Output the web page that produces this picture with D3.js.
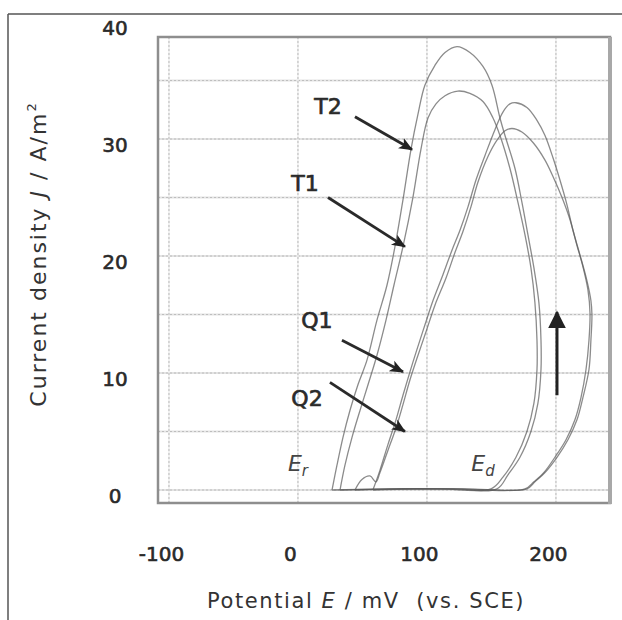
<!DOCTYPE html>
<html><head><meta charset="utf-8">
<script src="https://cdn.jsdelivr.net/npm/d3@7"></script>
<style>body{margin:0;background:#fff} svg{display:block}</style>
</head><body>
<svg id="c" width="622" height="620"></svg>
<script>
// ---- data (E in mV vs SCE, J in A/m^2) ----
const xTicks = [-100, 0, 100, 200];
const yTicks = [0, 10, 20, 30, 40];
const yGrid = [0, 5, 10, 15, 20, 25, 30, 35];

const curveT2 = [[26.4,0],[30.2,2.1],[34.9,4.5],[40.3,6.8],[46.5,9.0],[53.5,11.1],[61.2,14.5],[69.0,17.5],[75.2,20.8],[81.4,24.8],[87.6,29.1],[93.0,32.1],[98.4,34.6],[106.2,36.3],[114.0,37.4],[123.3,37.9],
  [133.3,37.4],[143.4,36.2],[150.4,34.6],[156.6,31.8],[160.5,30.3],[168.2,27.5],[173.6,24.6],[178.3,21.8],[182.9,19.0],[186.8,16.0],[188.4,12.8],[188.4,10.3],[186.0,7.4],[180.6,5.0],[172.1,2.8],[162.8,1.3],[154.3,0.1],
  [120,0.1],[80,0.1],[26.4,0]];
const curveT1 = [[32.6,0],[36.4,2.1],[41.9,4.5],[48.1,6.8],[54.3,9.0],[61.2,11.5],[68.2,14.5],[74.4,17.5],[81.4,20.8],[89.1,25.0],[95.3,29.1],[100.8,31.8],[107.0,33.0],[114.0,33.7],[124.0,34.1],
  [133.3,33.9],[143.4,33.2],[151.2,31.8],[156.6,30.3],[164.3,27.5],[170.5,24.6],[176.0,21.8],[180.6,19.0],[183.7,16.0],[185.3,12.8],[185.3,10.3],[182.9,7.4],[177.5,5.0],[169.0,2.8],[158.9,1.1],[149.6,0.1],
  [110,0.1],[70,0.1],[32.6,0]];
const curveQ1 = [[58.1,0],[63.6,1.7],[69.8,3.9],[76.0,6.0],[81.4,8.1],[86.8,10.1],[92.2,12.0],[98.4,14.1],[104.7,16.2],[112.4,18.4],[119.4,20.5],[125.6,22.2],[131.8,24.2],[138.0,26.5],[145.0,28.6],[152.7,30.8],[158.9,32.3],[164.3,33.0],[169.0,33.1],
  [177.5,32.7],[185.3,31.6],[191.5,30.3],[197.7,28.4],[203.1,26.5],[208.5,24.4],[213.2,22.2],[218.6,20.1],[224.0,17.9],[227.1,16.2],[227.9,15.0],[227.1,12.8],[225.6,10.3],[220.9,7.9],[216.3,6.0],[209.3,4.3],[200.8,2.8],[191.5,1.5],[183.7,0.7],[177.5,0.1],
  [130,0.1],[90,0.1],[58.1,0]];
const curveQ2 = [[44.2,0],[49.6,0.9],[55.8,1.2],[60.5,0.7],[63.6,1.5],[69.8,3.4],[76.0,5.3],[81.4,7.3],[86.8,9.4],[93.0,11.5],[99.2,13.5],[106.2,15.8],[114.7,18.1],[121.7,20.3],[127.9,22.1],[134.1,24.2],[139.5,26.3],[147.3,28.5],[154.3,29.9],[160.5,30.7],[165.9,30.9],
  [173.6,30.6],[182.2,29.7],[191.5,28.2],[197.7,26.8],[204.7,25.0],[210.9,23.1],[216.3,20.9],[220.9,19.1],[224.8,17.1],[226.4,15.1],[225.6,12.8],[223.3,10.3],[219.4,7.9],[214.7,6.0],[207.8,4.3],[199.2,2.8],[190.7,1.5],[182.9,0.7],[176.0,0.1],
  [120,0.1],[80,0.1],[44.2,0]];

// annotation labels and arrows (data coordinates)
const labelNames = ["T2", "T1", "Q1", "Q2"];
const labelPos = [[23.3,32.8],[5.4,26.2],[14.7,14.5],[7.0,7.9]];
const arrowFrom = [[44.2,31.9],[23.3,25.0],[34.1,12.8],[24.8,9.2]];
const arrowTo = [[88.4,29.1],[82.9,20.8],[81.4,10.1],[82.9,5.0]];
const scanArrow = [[200.8,8.1],[200.8,15.2]];
const potLabels = [{main:"E", sub:"r", pos:[0,2.3]},{main:"E", sub:"d", pos:[143.4,2.3]}];

// ---- drawing ----
const svg = d3.select('#c');
const x = d3.scaleLinear().domain([-108.5, 241.9]).range([158, 610]);
const y = d3.scaleLinear().domain([-1.11, 38.72]).range([503, 37]);
const font = "'DejaVu Sans', Verdana, sans-serif";

// outer figure frame (top and left)
svg.append('line').attr('x1',8).attr('y1',14).attr('x2',622).attr('y2',14).attr('stroke','#555').attr('stroke-width',1.5);
svg.append('line').attr('x1',8).attr('y1',14).attr('x2',8).attr('y2',620).attr('stroke','#555').attr('stroke-width',1.5);

const defs = svg.append('defs');
defs.append('clipPath').attr('id','clip').append('rect')
  .attr('x',x.range()[0]).attr('y',y.range()[1]).attr('width',x.range()[1]-x.range()[0]).attr('height',y.range()[0]-y.range()[1]);
defs.append('marker').attr('id','ah').attr('viewBox','0 0 12 10').attr('refX',11).attr('refY',5)
  .attr('markerWidth',5).attr('markerHeight',5).attr('markerUnits','strokeWidth').attr('orient','auto')
  .append('path').attr('d','M0,0 L12,5 L0,10 L3,5 Z').attr('fill','#222');
defs.append('marker').attr('id','ah2').attr('viewBox','0 0 10 10').attr('refX',9).attr('refY',5)
  .attr('markerWidth',6).attr('markerHeight',6).attr('markerUnits','strokeWidth').attr('orient','auto')
  .append('path').attr('d','M0,0 L10,5 L0,10 Z').attr('fill','#222');

// grid
const grid = svg.append('g');
yGrid.forEach(v => {
  grid.append('line').attr('x1',x.range()[0]).attr('x2',x.range()[1]).attr('y1',y(v)).attr('y2',y(v))
    .attr('stroke','#e3e3e3').attr('stroke-width',2.2);
  grid.append('line').attr('x1',x.range()[0]).attr('x2',x.range()[1]).attr('y1',y(v)).attr('y2',y(v))
    .attr('stroke','#bdbdbd').attr('stroke-width',1).attr('stroke-dasharray','2,2');
});
xTicks.forEach(v => {
  grid.append('line').attr('x1',x(v)).attr('x2',x(v)).attr('y1',y.range()[1]).attr('y2',y.range()[0])
    .attr('stroke','#ededed').attr('stroke-width',1.5);
  grid.append('line').attr('x1',x(v)).attr('x2',x(v)).attr('y1',y.range()[1]).attr('y2',y.range()[0])
    .attr('stroke','#bcbcbc').attr('stroke-width',1).attr('stroke-dasharray','2,2');
});

// curves
const line = d3.line().x(d => x(d[0])).y(d => y(d[1])).curve(d3.curveCatmullRom.alpha(0.5));
const curves = svg.append('g').attr('clip-path','url(#clip)');
[curveT2, curveT1, curveQ1, curveQ2].forEach(c => {
  curves.append('path').attr('d', line(c)).attr('fill','none')
    .attr('stroke','#5a5a5a').attr('stroke-opacity',0.7).attr('stroke-width',1.3);
});

// plot frame
svg.append('rect').attr('x',x.range()[0]).attr('y',y.range()[1])
  .attr('width',x.range()[1]-x.range()[0]).attr('height',y.range()[0]-y.range()[1])
  .attr('fill','none').attr('stroke','#8e8e8e').attr('stroke-width',2.5);
svg.append('line').attr('x1',x.range()[1]).attr('x2',x.range()[1]).attr('y1',y.range()[1]).attr('y2',y.range()[0]+1)
  .attr('stroke','#a8a8a8').attr('stroke-width',4);

// axes (labels only)
const xAxis = svg.append('g').attr('transform','translate(-8,547)')
  .call(d3.axisBottom(x).tickValues(xTicks).tickSize(0).tickPadding(0).tickFormat(d => String(d)));
xAxis.select('.domain').remove();
xAxis.selectAll('text').attr('font-family',font).attr('font-size',20)
  .attr('fill','#2a2a2a').attr('stroke','#2a2a2a').attr('stroke-width',0.6).attr('dy','0.71em');

const yAxis = svg.append('g').attr('transform','translate(115,6)')
  .call(d3.axisLeft(y).tickValues(yTicks).tickSize(0).tickPadding(0).tickFormat(d => String(d)));
yAxis.select('.domain').remove();
yAxis.selectAll('text').attr('font-family',font).attr('font-size',20)
  .attr('fill','#2a2a2a').attr('stroke','#2a2a2a').attr('stroke-width',0.6).attr('text-anchor','middle');

// axis titles
const xt = svg.append('text').attr('x',366).attr('y',608).attr('text-anchor','middle')
  .attr('font-family',font).attr('font-size',21).attr('letter-spacing',1.6).attr('fill','#333').attr('xml:space','preserve');
xt.append('tspan').text('Potential ');
xt.append('tspan').attr('font-style','italic').text('E');
xt.append('tspan').text(' / mV  (vs. SCE)');

const yt = svg.append('text').attr('transform','translate(46,254) rotate(-90)').attr('text-anchor','middle')
  .attr('font-family',font).attr('font-size',22).attr('letter-spacing',2).attr('fill','#333');
yt.append('tspan').text('Current density ');
yt.append('tspan').attr('font-style','italic').text('J');
yt.append('tspan').text(' / A/m');
yt.append('tspan').attr('font-size',13).attr('dy','-10').text('2');

// annotations
const ann = svg.append('g');
labelNames.forEach((n,i) => {
  ann.append('text').attr('x',x(labelPos[i][0])).attr('y',y(labelPos[i][1])).attr('dy','0.36em')
    .attr('text-anchor','middle').attr('font-family',font).attr('font-size',22)
    .attr('fill','#2a2a2a').attr('stroke','#2a2a2a').attr('stroke-width',0.7).text(n);
  ann.append('line').attr('x1',x(arrowFrom[i][0])).attr('y1',y(arrowFrom[i][1]))
    .attr('x2',x(arrowTo[i][0])).attr('y2',y(arrowTo[i][1]))
    .attr('stroke','#2a2a2a').attr('stroke-width',2.8).attr('marker-end','url(#ah)');
});
ann.append('line').attr('x1',x(scanArrow[0][0])).attr('y1',y(scanArrow[0][1]))
  .attr('x2',x(scanArrow[1][0])).attr('y2',y(scanArrow[1][1]))
  .attr('stroke','#222').attr('stroke-width',3).attr('marker-end','url(#ah2)');
potLabels.forEach(p => {
  const t = ann.append('text').attr('x',x(p.pos[0])).attr('y',y(p.pos[1])).attr('dy','0.36em')
    .attr('text-anchor','middle').attr('font-family',font).attr('font-size',22).attr('fill','#444')
    .attr('font-style','italic');
  t.append('tspan').text(p.main);
  t.append('tspan').attr('font-size',15).attr('dy','5').text(p.sub);
});
</script>
</body></html>
